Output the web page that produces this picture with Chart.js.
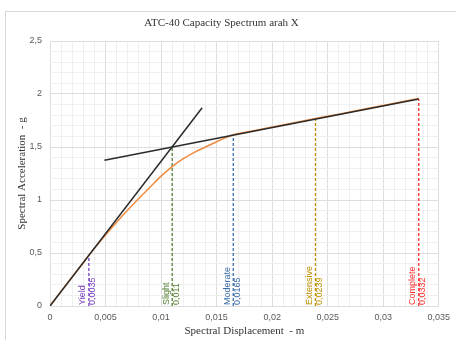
<!DOCTYPE html>
<html>
<head>
<meta charset="utf-8">
<script src="https://cdn.jsdelivr.net/npm/chart.js@4/dist/chart.umd.min.js"></script>
<style>
  html, body { margin: 0; padding: 0; background: #fff; }
  #wrap { width: 456px; height: 340px; position: relative; }
</style>
</head>
<body>
<div id="wrap"><canvas id="chart" width="456" height="340"></canvas></div>
<script>
// capacity curve (pushover converted to ADRS)
const capDisp = [0, 0.001, 0.002, 0.003, 0.0035, 0.004, 0.005, 0.006, 0.007, 0.008, 0.009, 0.010,
  0.011, 0.012, 0.013, 0.014, 0.015, 0.016, 0.0165, 0.017, 0.018, 0.020, 0.022, 0.0239, 0.026,
  0.028, 0.030, 0.0332]
const capAcc = [0, 0.14, 0.275, 0.41, 0.48, 0.545, 0.67, 0.79, 0.905, 1.015, 1.12, 1.225,
  1.315, 1.39, 1.45, 1.50, 1.55, 1.595, 1.616, 1.627, 1.647, 1.688, 1.729, 1.768, 1.810,
  1.851, 1.892, 1.957]

// bilinear idealisation
const initDisp = [0, 0.0137]
const initAcc = [0, 1.87]
const postDisp = [0.0049, 0.0332]
const postAcc = [1.376, 1.953]

// damage states
const levels = ["Yield", "Slight", "Moderate", "Extensive", "Complete"]
const levelDisp = [0.0035, 0.011, 0.0165, 0.0239, 0.0332]
const levelAcc = [0.48, 1.5, 1.613, 1.764, 1.953]
const levelColors = ["#7B3FC0", "#557F34", "#3A6DA8", "#BF9000", "#FF2B2B"]

const fmt = v => String(v).replace(".", ",")
const pts = (xs, ys) => xs.map((x, i) => ({ x, y: ys[i] }))

const tickFont = { family: "'Liberation Sans', Arial, sans-serif", size: 9 }
const serif = "'Liberation Serif', 'Times New Roman', serif"

const frame = {
  id: "frame",
  beforeDraw(chart) {
    const { ctx } = chart
    ctx.save()
    ctx.fillStyle = "#fff"
    ctx.fillRect(0, 0, chart.width, chart.height)
    ctx.strokeStyle = "#d9d9d9"
    ctx.lineWidth = 1
    ctx.strokeRect(5.5, 11.5, chart.width, chart.height)
    ctx.restore()
  }
}

// rotated name / value labels sitting on the x axis
const levelLabels = {
  id: "levelLabels",
  afterDatasetsDraw(chart) {
    const { ctx, scales: { x, y } } = chart
    const base = y.getPixelForValue(0) - 1
    ctx.save()
    ctx.font = "9px 'Liberation Sans', Arial, sans-serif"
    ctx.textAlign = "left"
    ctx.textBaseline = "middle"
    levels.forEach((name, i) => {
      const px = x.getPixelForValue(levelDisp[i])
      ctx.save()
      ctx.translate(px, base)
      ctx.rotate(-Math.PI / 2)
      ctx.fillStyle = levelColors[i]
      ctx.fillText(name, 0, -6)
      ctx.fillText(fmt(levelDisp[i]), 0, 4)
      ctx.restore()
    })
    ctx.restore()
  }
}

const datasets = [
  {
    data: pts(initDisp, initAcc),
    borderColor: "#2b2b2b", borderWidth: 1.5, pointRadius: 0
  },
  {
    data: pts(postDisp, postAcc),
    borderColor: "#2b2b2b", borderWidth: 1.5, pointRadius: 0
  },
  {
    data: pts(capDisp, capAcc),
    borderColor: "#F08A3E", borderWidth: 1.5, pointRadius: 0,
    cubicInterpolationMode: "monotone"
  },
  ...levels.map((name, i) => ({
    data: [{ x: levelDisp[i], y: 0 }, { x: levelDisp[i], y: levelAcc[i] }],
    borderColor: levelColors[i], borderWidth: 1.3, borderDash: [3, 2], pointRadius: 0
  }))
]

new Chart(document.getElementById("chart"), {
  type: "line",
  data: { datasets },
  plugins: [frame, levelLabels],
  options: {
    responsive: false,
    animation: false,
    layout: { padding: { left: 0, right: 13, top: 0, bottom: 0 } },
    plugins: {
      legend: { display: false },
      tooltip: { enabled: false },
      title: {
        display: true,
        text: "ATC-40 Capacity Spectrum arah X",
        color: "#333",
        font: { family: serif, size: 11, weight: "normal" },
        padding: { top: 17, bottom: 10.8 }
      }
    },
    scales: {
      x: {
        type: "linear",
        min: 0, max: 0.035,
        afterFit: s => { s.height = 34 },
        border: { display: false },
        grid: {
          drawTicks: false,
          color: c => Math.round(c.tick.value * 1000) % 5 === 0 ? "#dedede" : "#efefef"
        },
        ticks: {
          stepSize: 0.001,
          autoSkip: false,
          maxRotation: 0,
          padding: 6,
          color: "#595959",
          font: tickFont,
          callback: v => {
            const k = Math.round(v * 1000)
            return k % 5 === 0 ? fmt(k / 1000) : ""
          }
        },
        title: {
          display: true,
          text: "Spectral Displacement  - m",
          color: "#333",
          font: { family: serif, size: 11 },
          padding: { top: 0, bottom: 2 }
        }
      },
      y: {
        min: 0, max: 2.5,
        afterFit: s => { s.width = 50 },
        border: { display: false },
        grid: {
          drawTicks: false,
          color: c => Math.round(c.tick.value * 10) % 5 === 0 ? "#dedede" : "#efefef"
        },
        ticks: {
          stepSize: 0.1,
          autoSkip: false,
          padding: 8,
          color: "#595959",
          font: tickFont,
          callback: v => {
            const k = Math.round(v * 10)
            return k % 5 === 0 ? fmt(k / 10) : ""
          }
        },
        title: {
          display: true,
          text: "Spectral Acceleration  - g",
          color: "#333",
          font: { family: serif, size: 11 },
          padding: { top: 16, bottom: 0 }
        }
      }
    }
  }
})
</script>
</body>
</html>
